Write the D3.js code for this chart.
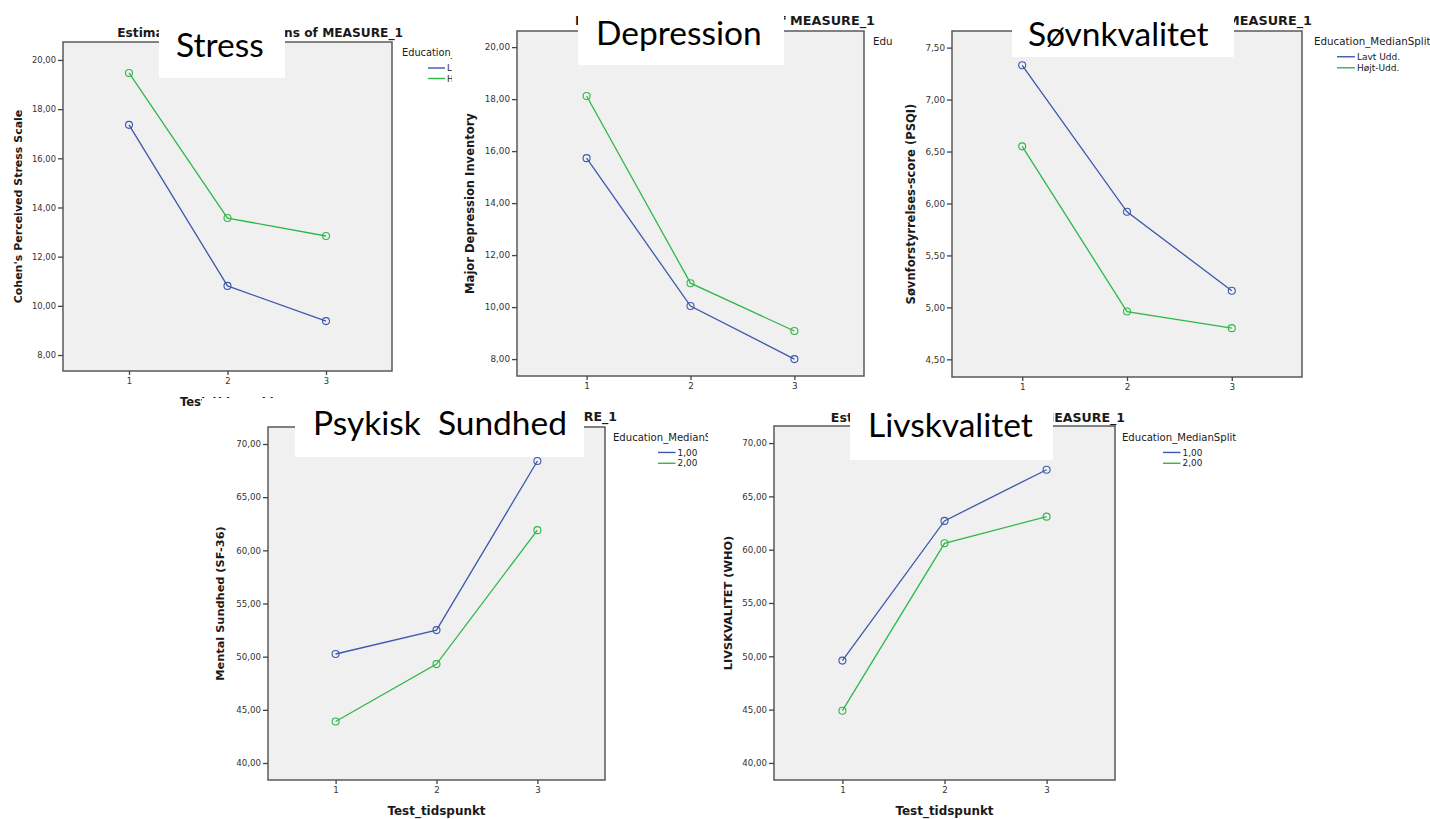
<!DOCTYPE html>
<html>
<head>
<meta charset="utf-8">
<script src="https://cdn.jsdelivr.net/npm/d3@7"></script>
<style>
  body { margin: 0; background: #fff; }
  text { font-family: "DejaVu Sans", sans-serif; }
</style>
</head>
<body>
<div id="chart"></div>
<script>
// time points on the x axis
var timepoints = [1, 2, 3];

// estimated marginal means, low / high education
var stressLow = [17.36, 10.81, 9.38],
    stressHigh = [19.47, 13.57, 12.84];
var depressionLow = [15.73, 10.04, 8.00],
    depressionHigh = [18.12, 10.92, 9.08];
var sleepLow = [7.33, 5.92, 5.16],
    sleepHigh = [6.55, 4.96, 4.80];
var mentalLow = [50.25, 52.50, 68.40],
    mentalHigh = [43.90, 49.30, 61.90];
var qolLow = [49.60, 62.70, 67.50],
    qolHigh = [44.90, 60.60, 63.10];

var ticksPoints = [8, 10, 12, 14, 16, 18, 20],
    ticksSleep = [4.5, 5, 5.5, 6, 6.5, 7, 7.5],
    ticksPercent = [40, 45, 50, 55, 60, 65, 70];

var namedLabels = ["Lavt Udd.", "Højt-Udd."],
    codedLabels = ["1,00", "2,00"];

var title = "Estimated Marginal Means of MEASURE_1",
    legendTitle = "Education_MedianSplit",
    xTitle = "Test_tidspunkt";

var colors = ["#3e58ac", "#2eb848"];

// one entry per pasted SPSS chart, in paste order
var panels = [
  { name: "Stress", ylabel: "Cohen's Perceived Stress Scale", low: stressLow, high: stressHigh,
    ticks: ticksPoints, yDomain: [7.35, 20.73], legend: namedLabels,
    frame: {x: 63, y: 42, w: 329, h: 329}, s: 1.0,
    titleX: 403, titleY: 37, ylabX: 18, xtitleY: 406,
    leg: {x: 402, y: 53, itemX: 26},
    box: {x: 159, y: 0, w: 126, h: 78, tx: 176, ty: 57} },
  { name: "Depression", ylabel: "Major Depression Inventory", low: depressionLow, high: depressionHigh,
    ticks: ticksPoints, yDomain: [7.35, 20.62], legend: namedLabels,
    frame: {x: 517, y: 31, w: 347, h: 345}, s: 1.05,
    titleX: 875, titleY: 25, ylabX: 470, xtitleY: 410,
    leg: {x: 873, y: 41, itemX: 26},
    back: {x: 452, y: 0, w: 441, h: 398},
    box: {x: 578, y: 0, w: 206, h: 65, tx: 596, ty: 45} },
  { name: "Søvnkvalitet", ylabel: "Søvnforstyrrelses-score (PSQI)", low: sleepLow, high: sleepHigh,
    ticks: ticksSleep, yDomain: [4.33, 7.66], legend: namedLabels,
    frame: {x: 952, y: 31, w: 350, h: 346}, s: 1.05,
    titleX: 1312, titleY: 25, ylabX: 911, xtitleY: 410,
    leg: {x: 1314, y: 41, itemX: 23},
    back: {x: 893, y: 0, w: 537, h: 398},
    box: {x: 1012, y: 0, w: 222, h: 57, tx: 1028, ty: 46} },
  { name: "Psykisk  Sundhed", ylabel: "Mental Sundhed (SF-36)", low: mentalLow, high: mentalHigh,
    ticks: ticksPercent, yDomain: [38.4, 71.6], legend: codedLabels,
    frame: {x: 268, y: 427, w: 337, h: 353}, s: 1.03,
    titleX: 617, titleY: 421, ylabX: 220, xtitleY: 815,
    leg: {x: 613, y: 437, itemX: 45},
    back: {x: 202, y: 398, w: 506, h: 421},
    box: {x: 295, y: 397, w: 289, h: 60, tx: 313, ty: 435} },
  { name: "Livskvalitet", ylabel: "LIVSKVALITET (WHO)", low: qolLow, high: qolHigh,
    ticks: ticksPercent, yDomain: [38.4, 71.6], legend: codedLabels,
    frame: {x: 774, y: 426, w: 341, h: 354}, s: 1.03,
    titleX: 1125, titleY: 422, ylabX: 728, xtitleY: 815,
    leg: {x: 1122, y: 437, itemX: 41},
    back: {x: 708, y: 398, w: 552, h: 421},
    box: {x: 850, y: 398, w: 203, h: 62, tx: 868, ty: 437} }
];

var comma = function(d) { return d3.format(".2f")(d).replace(".", ","); };

var svg = d3.select("#chart").append("svg")
    .attr("width", 1430)
    .attr("height", 819);

panels.forEach(function(p) {
  var g = svg.append("g"),
      f = p.frame,
      s = p.s;

  // white paper of the pasted picture, hides what lies under it
  if (p.back) {
    g.append("rect")
        .attr("x", p.back.x).attr("y", p.back.y)
        .attr("width", p.back.w).attr("height", p.back.h)
        .attr("fill", "#fff");
  }

  var x = d3.scalePoint()
      .domain(timepoints)
      .range([f.x, f.x + f.w])
      .padding(0.67);

  var y = d3.scaleLinear()
      .domain(p.yDomain)
      .range([f.y + f.h, f.y]);

  g.append("text")
      .attr("x", p.titleX).attr("y", p.titleY)
      .attr("text-anchor", "end")
      .style("font-size", (12.2 * s) + "px")
      .style("font-weight", "bold")
      .attr("fill", "#1a1a1a")
      .text(title);

  g.append("rect")
      .attr("x", f.x).attr("y", f.y)
      .attr("width", f.w).attr("height", f.h)
      .attr("fill", "#f0f0f0")
      .attr("stroke", "#5a5a5a")
      .attr("stroke-width", 1.5);

  var yAxis = g.append("g")
      .attr("transform", "translate(" + f.x + ",0)")
      .call(d3.axisLeft(y).tickValues(p.ticks).tickSize(5).tickPadding(2).tickFormat(comma));
  var xAxis = g.append("g")
      .attr("transform", "translate(0," + (f.y + f.h) + ")")
      .call(d3.axisBottom(x).tickSize(4).tickPadding(3));
  [yAxis, xAxis].forEach(function(a) {
    a.select(".domain").remove();
    a.selectAll("line").attr("stroke", "#444").attr("stroke-width", 1.3);
    a.selectAll("text")
        .attr("fill", "#333")
        .style("font-family", "'DejaVu Sans', sans-serif")
        .style("font-size", (8.4 * s) + "px");
  });

  var line = d3.line()
      .x(function(d, i) { return x(timepoints[i]); })
      .y(function(d) { return y(d); });

  [p.low, p.high].forEach(function(series, k) {
    g.append("path")
        .datum(series)
        .attr("d", line)
        .attr("fill", "none")
        .attr("stroke", colors[k])
        .attr("stroke-width", 1.3);
    g.selectAll(null)
        .data(series)
      .enter().append("circle")
        .attr("cx", function(d, i) { return x(timepoints[i]); })
        .attr("cy", function(d) { return y(d); })
        .attr("r", 3.5)
        .attr("fill", "none")
        .attr("stroke", colors[k])
        .attr("stroke-width", 1.1);
  });

  g.append("text")
      .attr("transform", "translate(" + p.ylabX + "," + (f.y + f.h / 2) + ") rotate(-90)")
      .attr("dy", "0.35em")
      .attr("text-anchor", "middle")
      .style("font-size", (11 * s) + "px")
      .style("font-weight", "bold")
      .attr("fill", "#1a1a1a")
      .text(p.ylabel);

  g.append("text")
      .attr("x", f.x + f.w / 2).attr("y", p.xtitleY)
      .attr("text-anchor", "middle")
      .style("font-size", (11.6 * s) + "px")
      .style("font-weight", "bold")
      .attr("fill", "#1a1a1a")
      .text(xTitle);

  // legend
  g.append("text")
      .attr("x", p.leg.x).attr("y", p.leg.y)
      .attr("dy", "0.35em")
      .style("font-size", (9.8 * s) + "px")
      .attr("fill", "#1a1a1a")
      .text(legendTitle);
  p.legend.forEach(function(lab, k) {
    var ly = p.leg.y + (15 + 10.5 * k) * s,
        lx = p.leg.x + p.leg.itemX;
    g.append("line")
        .attr("x1", lx).attr("x2", lx + 17 * s)
        .attr("y1", ly).attr("y2", ly)
        .attr("stroke", colors[k])
        .attr("stroke-width", 1.4);
    g.append("text")
        .attr("x", lx + 19 * s).attr("y", ly)
        .attr("dy", "0.35em")
        .style("font-size", (8.6 * s) + "px")
        .attr("fill", "#1a1a1a")
        .text(lab);
  });

  // white label box pasted over the title
  var b = p.box;
  g.append("rect")
      .attr("x", b.x).attr("y", b.y)
      .attr("width", b.w).attr("height", b.h)
      .attr("fill", "#fff");
  g.append("text")
      .attr("x", b.tx).attr("y", b.ty)
      .style("font-family", "Lato, 'Open Sans', sans-serif")
      .style("font-size", "33.5px")
      .style("white-space", "pre")
      .attr("fill", "#000")
      .text(p.name);
});
</script>
</body>
</html>
